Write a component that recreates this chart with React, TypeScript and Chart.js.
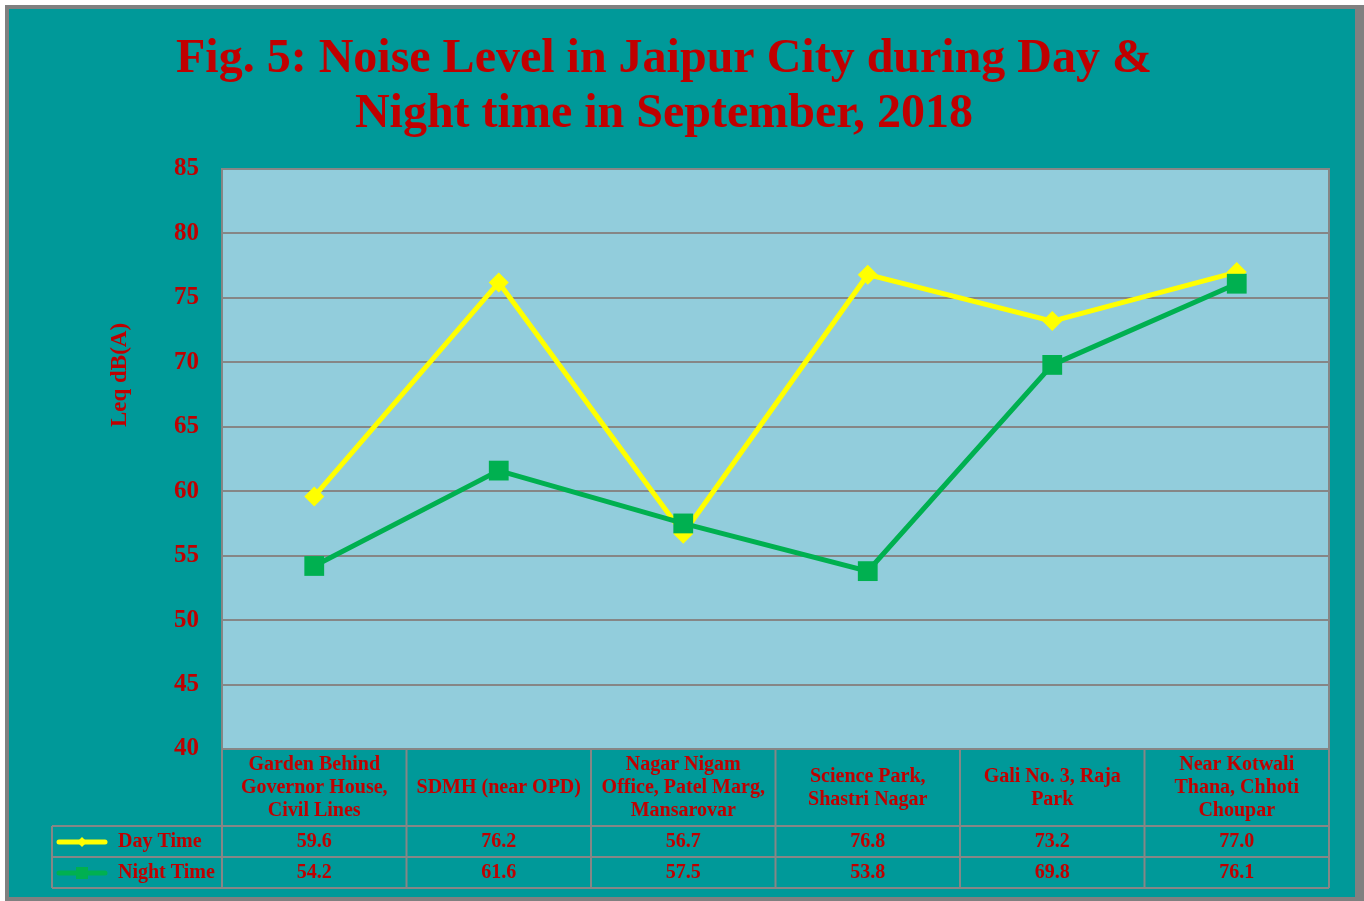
import { useEffect, useRef } from "react";
import { Chart, registerables } from "chart.js";

Chart.register(...registerables);

const titleLines = ["Fig. 5: Noise Level in Jaipur City during Day &", "Night time in September, 2018"];
const yAxisTitle = "Leq dB(A)";
const categories: string[][] = [
  ["Garden Behind", "Governor House,", "Civil Lines"],
  ["SDMH (near OPD)"],
  ["Nagar Nigam", "Office, Patel Marg,", "Mansarovar"],
  ["Science Park,", "Shastri Nagar"],
  ["Gali No. 3, Raja", "Park"],
  ["Near Kotwali", "Thana, Chhoti", "Choupar"],
];
const seriesNames = ["Day Time", "Night Time"];
const dayValues = [59.6, 76.2, 56.7, 76.8, 73.2, 77.0];
const nightValues = [54.2, 61.6, 57.5, 53.8, 69.8, 76.1];
const yMin = 40;
const yMax = 85;
const yStep = 5;

const RED = "#C00000";
const TEAL = "#009999";
const PLOT_BG = "#92CDDC";
const GRID = "#868686";
const YELLOW = "#FFFF00";
const GREEN = "#00B050";
const SERIF = "'Liberation Serif', 'Times New Roman', serif";

const customPlugin = {
  id: "custom",
  beforeDraw(chart: any) {
    const { ctx, chartArea } = chart;
    const { left, top, right, bottom } = chartArea;
    ctx.save();
    ctx.fillStyle = PLOT_BG;
    ctx.fillRect(left, top, right - left, bottom - top);
    ctx.restore();
  },
  afterDatasetsDraw(chart: any) {
    const { ctx, chartArea } = chart;
    const { left, top, right, bottom } = chartArea;
    ctx.save();
    ctx.strokeStyle = GRID;
    ctx.lineWidth = 2;
    ctx.strokeRect(left, top, right - left, bottom - top);
    ctx.restore();
  },
  afterDraw(chart: any) {
    const { ctx, chartArea } = chart;
    const { left, right, bottom } = chartArea;
    const xScale = chart.scales.x;
    const n = categories.length;
    const colW = (right - left) / n;
    const headerBottom = bottom + 77;
    const row1Bottom = headerBottom + 31;
    const row2Bottom = row1Bottom + 31;
    const legendLeft = 43;

    ctx.save();
    // title
    ctx.fillStyle = RED;
    ctx.font = `bold 48px ${SERIF}`;
    ctx.textAlign = "center";
    ctx.textBaseline = "alphabetic";
    ctx.fillText(titleLines[0], 655, 63);
    ctx.fillText(titleLines[1], 655, 118);

    // y axis title
    ctx.save();
    ctx.translate(111, 366);
    ctx.rotate(-Math.PI / 2);
    ctx.font = `bold 23px ${SERIF}`;
    ctx.textAlign = "center";
    ctx.textBaseline = "middle";
    ctx.fillText(yAxisTitle, 0, 0);
    ctx.restore();

    // table lines
    ctx.strokeStyle = GRID;
    ctx.lineWidth = 2;
    ctx.beginPath();
    for (let k = 0; k <= n; k++) {
      const x = left + k * colW;
      ctx.moveTo(x, bottom);
      ctx.lineTo(x, row2Bottom);
    }
    ctx.moveTo(legendLeft, headerBottom);
    ctx.lineTo(legendLeft, row2Bottom);
    [headerBottom, row1Bottom, row2Bottom].forEach((y) => {
      ctx.moveTo(legendLeft, y);
      ctx.lineTo(right, y);
    });
    ctx.stroke();

    // header text
    ctx.fillStyle = RED;
    ctx.font = `bold 20px ${SERIF}`;
    ctx.textAlign = "center";
    ctx.textBaseline = "middle";
    const headerMid = bottom + 39;
    const lh = 23;
    categories.forEach((lines, i) => {
      const cx = xScale.getPixelForValue(i);
      const start = headerMid - ((lines.length - 1) * lh) / 2;
      lines.forEach((t, j) => ctx.fillText(t, cx, start + j * lh));
    });

    // values
    const rows = [dayValues, nightValues];
    const rowMids = [headerBottom + 16, row1Bottom + 16];
    rows.forEach((vals, r) => {
      vals.forEach((v, i) => {
        ctx.fillText(v.toFixed(1), xScale.getPixelForValue(i), rowMids[r]);
      });
    });

    // legend keys
    const keyColors = [YELLOW, GREEN];
    rows.forEach((_, r) => {
      const y = rowMids[r];
      ctx.strokeStyle = keyColors[r];
      ctx.fillStyle = keyColors[r];
      ctx.lineWidth = 5;
      ctx.lineCap = "round";
      ctx.beginPath();
      ctx.moveTo(50, y);
      ctx.lineTo(96, y);
      ctx.stroke();
      const mx = 73;
      if (r === 0) {
        ctx.beginPath();
        ctx.moveTo(mx - 5, y);
        ctx.lineTo(mx, y - 5);
        ctx.lineTo(mx + 5, y);
        ctx.lineTo(mx, y + 5);
        ctx.closePath();
        ctx.fill();
      } else {
        ctx.fillRect(mx - 6, y - 6, 12, 12);
      }
      ctx.fillStyle = RED;
      ctx.textAlign = "left";
      ctx.fillText(seriesNames[r], 109, y);
    });
    ctx.restore();
  },
};

export default function App() {
  const ref = useRef<HTMLCanvasElement | null>(null);
  useEffect(() => {
    if (!ref.current) return;
    const chart = new Chart(ref.current, {
      type: "line",
      data: {
        labels: categories.map((c) => c.join(" ")),
        datasets: [
          {
            label: seriesNames[0],
            data: dayValues,
            borderColor: YELLOW,
            backgroundColor: YELLOW,
            borderWidth: 5,
            pointStyle: "rectRot",
            pointRadius: 10,
            pointBorderWidth: 0,
            tension: 0,
            order: 2,
          },
          {
            label: seriesNames[1],
            data: nightValues,
            borderColor: GREEN,
            backgroundColor: GREEN,
            borderWidth: 5,
            pointStyle: "rect",
            pointRadius: 14,
            pointBorderWidth: 0,
            tension: 0,
            order: 1,
          },
        ],
      },
      options: {
        responsive: false,
        animation: false,
        layout: { padding: { top: 160, right: 26, left: 0, bottom: 0 } },
        plugins: {
          legend: { display: false },
          title: { display: false },
          tooltip: { enabled: false },
        },
        scales: {
          x: {
            offset: true,
            grid: { display: false },
            border: { display: false },
            ticks: { display: false },
            afterFit: (s: any) => {
              s.height = 148;
            },
          },
          y: {
            min: yMin,
            max: yMax,
            grid: { color: GRID, lineWidth: 2, drawTicks: false },
            border: { display: false },
            ticks: {
              stepSize: yStep,
              color: RED,
              padding: 23,
              font: { family: SERIF, size: 25, weight: "bold" },
            },
            afterFit: (s: any) => {
              s.width = 213;
            },
          },
        },
      },
      plugins: [customPlugin],
    } as any);
    return () => chart.destroy();
  }, []);

  return (
    <div
      style={{
        position: "absolute",
        left: 5,
        top: 5,
        width: 1346,
        height: 888,
        border: "4px solid #808080",
        borderRightWidth: 9,
        background: TEAL,
      }}
    >
      <canvas ref={ref} width={1346} height={888} style={{ display: "block" }} />
    </div>
  );
}
